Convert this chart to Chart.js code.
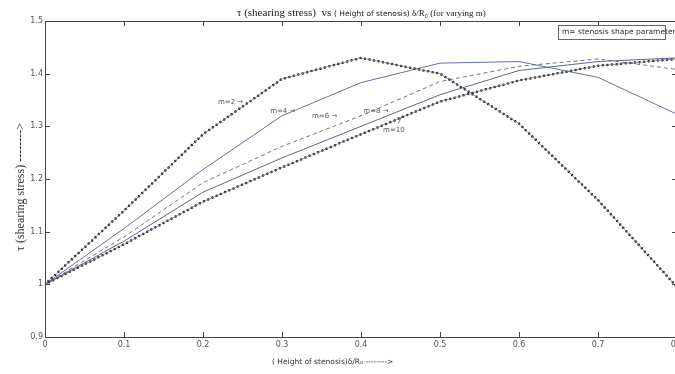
<!DOCTYPE html>
<html>
<head>
<meta charset="utf-8">
<script src="https://cdn.jsdelivr.net/npm/chart.js@4"></script>
<style>
  html, body { margin: 0; padding: 0; background: #fff; overflow: hidden; width: 675px; height: 374px; }
  #wrap { width: 675px; height: 374px; overflow: hidden; position: relative; }
  #myChart { position: absolute; left: 0; top: 0; }
</style>
</head>
<body>
<div id="wrap"><canvas id="myChart" width="690" height="374"></canvas></div>
<script>
// height of stenosis delta/R0
var heights = [0, 0.1, 0.2, 0.3, 0.4, 0.5, 0.6, 0.7, 0.8];
// shearing stress for each m
var tauM2  = [1.0, 1.14, 1.285, 1.39, 1.43, 1.40, 1.305, 1.16, 0.995];
var tauM4  = [1.0, 1.106, 1.218, 1.32, 1.383, 1.42, 1.423, 1.393, 1.323];
var tauM6  = [1.0, 1.09, 1.193, 1.262, 1.32, 1.385, 1.414, 1.428, 1.408];
var tauM8  = [1.0, 1.082, 1.175, 1.24, 1.30, 1.36, 1.406, 1.423, 1.43];
var tauM10 = [1.0, 1.076, 1.157, 1.222, 1.285, 1.347, 1.387, 1.415, 1.428];

var yTicks = [0.9, 1, 1.1, 1.2, 1.3, 1.4, 1.5];
var xTicks = [0, 0.1, 0.2, 0.3, 0.4, 0.5, 0.6, 0.7, 0.8];

// curve labels: text, x, y (data units)
var curveLabels = [
    ['m=2 \u2192', 0.219, 1.345],
    ['m=4 \u2192', 0.285, 1.328],
    ['m=6 \u2192', 0.338, 1.319],
    ['m=8 \u2192', 0.403, 1.328],
    ['m=10', 0.428, 1.292]
];

function pts(ys) {
    var out = [];
    for (var i = 0; i < heights.length; i++) {
        out.push({x: heights[i], y: ys[i]});
    }
    return out;
}

function dotted(ys) {
    return {
        data: pts(ys), borderColor: '#111', borderWidth: 2.5,
        borderDash: [0, 4.6], borderCapStyle: 'round', pointRadius: 0, tension: 0
    };
}
function under(ys) {
    return {data: pts(ys), borderColor: '#888', borderWidth: 0.8, pointRadius: 0, tension: 0};
}

var decor = {
    id: 'decor',
    afterDraw: function(chart) {
        var c = chart.ctx, a = chart.chartArea;
        var xs = chart.scales.x, ys = chart.scales.y;
        c.save();
        // box
        c.strokeStyle = '#444';
        c.lineWidth = 1;
        c.strokeRect(a.left + 0.5, a.top + 0.5, a.right - a.left, a.bottom - a.top);
        // inward ticks
        xTicks.forEach(function(v) {
            var px = Math.round(xs.getPixelForValue(v)) + 0.5;
            c.beginPath();
            c.moveTo(px, a.bottom); c.lineTo(px, a.bottom - 5);
            c.moveTo(px, a.top); c.lineTo(px, a.top + 5);
            c.stroke();
        });
        yTicks.forEach(function(v) {
            var py = Math.round(ys.getPixelForValue(v)) + 0.5;
            c.beginPath();
            c.moveTo(a.left, py); c.lineTo(a.left + 5, py);
            c.moveTo(a.right, py); c.lineTo(a.right - 5, py);
            c.stroke();
        });

        // curve labels
        c.fillStyle = '#555';
        c.font = '7px "DejaVu Sans"';
        c.textBaseline = 'middle';
        curveLabels.forEach(function(l) {
            c.fillText(l[0], xs.getPixelForValue(l[1]), ys.getPixelForValue(l[2]));
        });
        // arrow for m=10
        c.strokeStyle = '#555';
        c.lineWidth = 0.8;
        var ax = xs.getPixelForValue(0.447), ay = ys.getPixelForValue(1.305);
        c.beginPath(); c.moveTo(ax, ay); c.lineTo(ax + 4, ay - 8); c.stroke();

        // title
        c.fillStyle = '#222';
        c.textBaseline = 'alphabetic';
        c.font = '11px "Liberation Serif"';
        var tx = 237, ty = 16;
        var p1 = '\u03c4 (shearing stress)  vs ';
        c.fillText(p1, tx, ty); tx += c.measureText(p1).width;
        c.font = '7.5px "DejaVu Sans"';
        var p2 = '( Height of stenosis) ';
        c.fillText(p2, tx, ty); tx += c.measureText(p2).width;
        c.font = '9px "Liberation Serif"';
        c.fillText('\u03b4/R\u2080 (for varying m)', tx, ty);

        // note box
        c.strokeStyle = '#666';
        c.lineWidth = 1;
        c.strokeRect(558.5, 25.5, 107, 14);
        c.fillStyle = '#333';
        c.font = '7.5px "DejaVu Sans"';
        c.textBaseline = 'middle';
        c.fillText('m= stenosis shape parameter', 562, 32.5);

        // x axis title
        c.fillStyle = '#333';
        c.font = '7.5px "DejaVu Sans"';
        c.fillText('( Height of stenosis)\u03b4/R\u2080 -------->', 272, 362);

        // y axis title
        c.translate(21, 187);
        c.rotate(-Math.PI / 2);
        c.textAlign = 'center';
        c.font = '12px "Liberation Serif"';
        c.fillStyle = '#333';
        c.fillText('\u03c4 (shearing stress) -------->', 0, 0);
        c.restore();
    }
};

new Chart(document.getElementById('myChart'), {
    type: 'line',
    data: {
        datasets: [
            under(tauM2),
            dotted(tauM2),
            {data: pts(tauM4), borderColor: '#56609a', borderWidth: 0.9, pointRadius: 0, tension: 0},
            {data: pts(tauM6), borderColor: '#666', borderWidth: 0.9, borderDash: [4, 3], pointRadius: 0, tension: 0},
            {data: pts(tauM8), borderColor: '#4b5488', borderWidth: 0.9, pointRadius: 0, tension: 0},
            under(tauM10),
            dotted(tauM10)
        ]
    },
    options: {
        responsive: false,
        animation: false,
        layout: {padding: {top: 21, right: 13, left: 0, bottom: 0}},
        plugins: {legend: {display: false}, tooltip: {enabled: false}},
        scales: {
            x: {
                type: 'linear', min: 0, max: 0.8,
                grid: {display: false, drawTicks: false, tickLength: 0}, border: {display: false},
                afterBuildTicks: function(s) { s.ticks = xTicks.map(function(v) { return {value: v}; }); },
                afterFit: function(s) { s.height = 37; },
                ticks: {
                    padding: 3, color: '#555', font: {size: 8, family: 'DejaVu Sans'}, maxRotation: 0,
                    callback: function(v) { return v === 0 ? '0' : v.toFixed(1); }
                }
            },
            y: {
                min: 0.9, max: 1.5,
                grid: {display: false, drawTicks: false, tickLength: 0}, border: {display: false},
                afterBuildTicks: function(s) { s.ticks = yTicks.map(function(v) { return {value: v}; }); },
                afterFit: function(s) { s.width = 45; },
                ticks: {
                    padding: 2, color: '#555', font: {size: 8, family: 'DejaVu Sans'},
                    callback: function(v) { return String(Number(v.toFixed(1))); }
                }
            }
        }
    },
    plugins: [decor]
});
</script>
</body>
</html>
